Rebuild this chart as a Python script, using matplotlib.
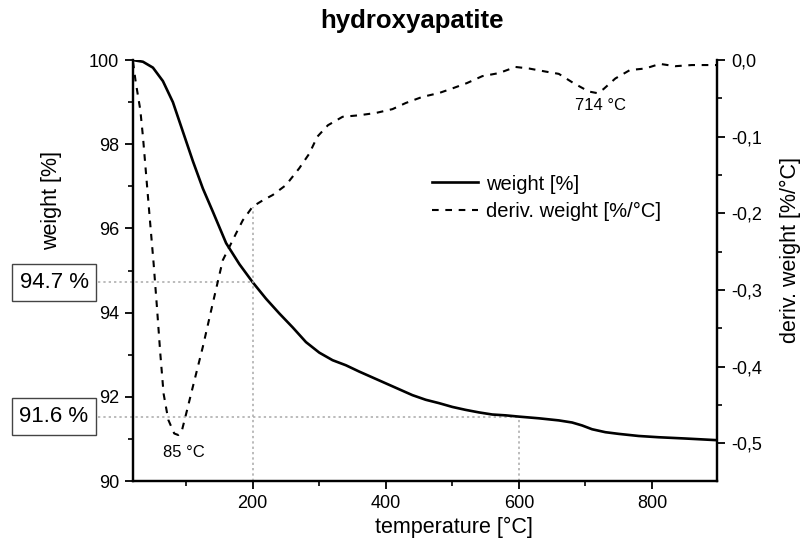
import numpy as np
import matplotlib
matplotlib.use('Agg')
import matplotlib.pyplot as plt
from matplotlib.ticker import MultipleLocator, FuncFormatter

plt.rcParams['font.family'] = ['Liberation Sans', 'DejaVu Sans']

# weight curve (TGA)
temp_w = [20, 35, 50, 65, 80, 95, 110, 125, 140, 160, 180, 200, 220, 240, 260, 280,
          300, 320, 340, 360, 380, 400, 420, 440, 460, 480, 500, 520, 540, 560, 580,
          600, 630, 660, 680, 695, 710, 730, 750, 780, 810, 850, 898]
weight = [100.0, 99.96, 99.82, 99.5, 99.0, 98.3, 97.6, 96.95, 96.4, 95.65, 95.15, 94.72,
          94.33, 93.98, 93.65, 93.3, 93.05, 92.87, 92.75, 92.6, 92.46, 92.32, 92.18, 92.04,
          91.93, 91.85, 91.76, 91.69, 91.63, 91.58, 91.56, 91.53, 91.49, 91.44, 91.39,
          91.32, 91.23, 91.16, 91.12, 91.07, 91.04, 91.01, 90.97]

# derivative curve (DTG)
temp_d = [20, 24, 31, 35, 40, 45, 51, 56, 61, 66, 73, 82, 88, 93, 100, 110, 125, 140,
          155, 175, 185, 200, 215, 230, 250, 270, 285, 297, 313, 335, 360, 385, 410, 430,
          455, 480, 500, 522, 545, 570, 595, 615, 640, 660, 682, 705, 717, 727, 745, 767,
          790, 812, 835, 860, 897]
deriv = [-0.002, -0.028, -0.065, -0.10, -0.152, -0.204, -0.265, -0.322, -0.382, -0.435,
         -0.469, -0.487, -0.489, -0.485, -0.461, -0.426, -0.374, -0.317, -0.261, -0.226,
         -0.209, -0.191, -0.183, -0.176, -0.163, -0.141, -0.122, -0.10, -0.085, -0.074,
         -0.072, -0.069, -0.064, -0.056, -0.048, -0.043, -0.037, -0.030, -0.021, -0.017,
         -0.009, -0.011, -0.015, -0.018, -0.030, -0.041, -0.043, -0.038, -0.024, -0.013,
         -0.011, -0.005, -0.008, -0.0065, -0.0065]

# marked values
mark_temps = [200, 600]
mark_weights = [94.72, 91.53]
mark_labels = ['94.7 %', '91.6 %']
peaks = [(96, -0.512, '85 °C'), (723, -0.059, '714 °C')]

fig = plt.figure(figsize=(8.03, 5.51), dpi=100)
ax = fig.add_axes([0.1656, 0.127, 0.7275, 0.764])
ax2 = ax.twinx()

l1, = ax.plot(temp_w, weight, color='black', lw=1.9, label='weight [%]', zorder=5)
l2, = ax2.plot(temp_d, deriv, color='black', lw=1.5, dashes=(3.2, 3.2),
               label='deriv. weight [%/°C]', zorder=5)

ax.set_xlim(20, 898)
ax.set_ylim(90, 100)
ax2.set_ylim(-0.549, 0.0)

gray = '#a8a8a8'
# helper lines
d200 = np.interp(mark_temps[0], temp_d, deriv)
ax2.plot([mark_temps[0]] * 2, [-0.549, d200], color=gray, lw=1.1, dashes=(1.5, 2), zorder=1)
ax.plot([mark_temps[1]] * 2, [90, mark_weights[1]], color=gray, lw=1.1, dashes=(1.5, 2), zorder=1)
for t, w, lab in zip(mark_temps, mark_weights, mark_labels):
    ax.plot([-33, t], [w, w], color=gray, lw=1.1, dashes=(1.5, 2), clip_on=False, zorder=1)
    ax.annotate(lab, xy=(54 / 803, w), xycoords=('figure fraction', 'data'),
                ha='center', va='center', fontsize=16, annotation_clip=False,
                bbox=dict(boxstyle='square,pad=0.35', fc='white', ec='#444444', lw=1.0))

for t, d, lab in peaks:
    ax2.text(t, d, lab, ha='center', va='center', fontsize=12)

# axes styling
for a in (ax, ax2):
    a.spines['top'].set_visible(False)
    for s in ('left', 'right', 'bottom'):
        a.spines[s].set_linewidth(1.6)
ax.xaxis.set_major_locator(MultipleLocator(200))
ax.xaxis.set_minor_locator(MultipleLocator(100))
ax.yaxis.set_major_locator(MultipleLocator(2))
ax.yaxis.set_minor_locator(MultipleLocator(1))
ax2.yaxis.set_major_locator(MultipleLocator(0.1))
ax2.yaxis.set_minor_locator(MultipleLocator(0.05))
ax2.yaxis.set_major_formatter(FuncFormatter(lambda v, p: ('%.1f' % v).replace('.', ',').replace('-0,0', '0,0')))

for a in (ax, ax2):
    a.tick_params(which='major', direction='out', length=6, width=1.3, labelsize=13, pad=4)
    a.tick_params(which='minor', direction='out', length=3.5, width=1.2)

ax.set_xlabel('temperature [°C]', fontsize=15.5)
ax.xaxis.set_label_coords(0.55, -0.085)
ax.set_ylabel('weight [%]', fontsize=15.5)
ax.yaxis.set_label_coords(-0.122, 0.667)
ax2.set_ylabel('deriv. weight [%/°C]', fontsize=15.5, rotation=90)
ax2.yaxis.set_label_coords(1.108, 0.549)

fig.text(0.513, 0.962, 'hydroxyapatite', ha='center', va='center', fontsize=18.5, fontweight='bold')

ax2.legend([l1, l2], [l1.get_label(), l2.get_label()], loc='upper left',
           bbox_to_anchor=(0.494, 0.752), frameon=False, fontsize=14.5,
           handlelength=2.3, handletextpad=0.4, labelspacing=0.4, borderpad=0)

fig.savefig('out.png', dpi=100)
